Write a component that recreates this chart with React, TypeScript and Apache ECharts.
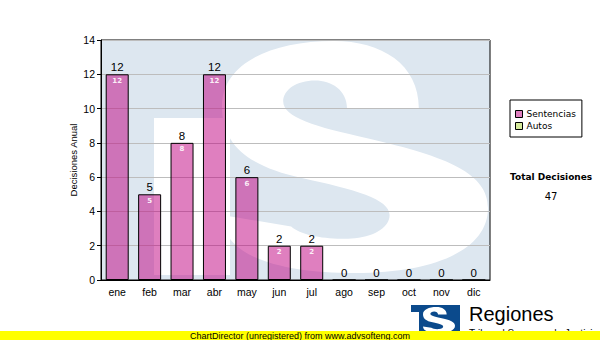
import React, { useEffect, useRef } from "react";
import * as echarts from "echarts";

const months = ["ene", "feb", "mar", "abr", "may", "jun", "jul", "ago", "sep", "oct", "nov", "dic"];
const sentencias = [12, 5, 8, 12, 6, 2, 2, 0, 0, 0, 0, 0];
const autos = [0, 0, 0, 0, 0, 0, 0, 0, 0, 0, 0, 0];
const seriesNames = ["Sentencias", "Autos"];
const yTicks = { min: 0, max: 14, interval: 2 };

const PINK = "rgba(192,0,128,0.5)";
const GREEN = "#d6eb9c";
const WM_BLUE = "#dde7f0";

// watermark "S" outline in a 100x100 box
const S_PATH =
  "M 42 0 C 60 0 74 10 74 29 L 47 29 C 47 21 41 17 35 17 C 28 17 23 21 23 26 " +
  "C 23 33 35 37 55 42 C 85 50 100 57 100 72 C 100 90 80 100 50 100 " +
  "C 20 100 0 92 0 75 L 26 80 C 30 84 40 86 50 85 C 58 84 63 80 63 75 " +
  "C 63 68 50 64 30 59 C 10 54 0 45 0 28 C 0 10 18 0 42 0 Z";

export default function App() {
  const ref = useRef<HTMLDivElement>(null);
  useEffect(() => {
    if (!ref.current) return;
    echarts.graphic.registerShape("wmS", echarts.graphic.extendPath(S_PATH, {}));
    const chart = echarts.init(ref.current, null, { renderer: "svg" });
    const total = sentencias.reduce((a, b) => a + b, 0) + autos.reduce((a, b) => a + b, 0);
    chart.setOption({
      animation: false,
      backgroundColor: "#ffffff",
      grid: {
        left: 101,
        right: 110,
        top: 40,
        bottom: 60,
        show: true,
        borderColor: "#000",
        borderWidth: 1,
        backgroundColor: "transparent",
      },
      legend: {
        data: seriesNames,
        orient: "vertical",
        left: 510,
        top: 100,
        padding: [8, 6, 5, 5],
        itemGap: 0,
        itemWidth: 7,
        itemHeight: 7,
        icon: "rect",
        borderColor: "#000",
        borderWidth: 1,
        borderRadius: 0,
        backgroundColor: "#fff",
        itemStyle: { borderColor: "#000", borderWidth: 1 },
        textStyle: { fontFamily: "DejaVu Sans", fontSize: 9, color: "#000", lineHeight: 12, padding: [0, 0, 0, -1] },
      },
      xAxis: {
        type: "category",
        data: months,
        axisLine: { lineStyle: { color: "#000", width: 1 } },
        axisTick: { alignWithLabel: true, length: 4, lineStyle: { color: "#000" } },
        axisLabel: { color: "#000", fontFamily: "Liberation Sans", fontSize: 10.5, margin: 6 },
      },
      yAxis: {
        type: "value",
        min: yTicks.min,
        max: yTicks.max,
        interval: yTicks.interval,
        name: "Decisiones Anual",
        nameLocation: "middle",
        nameGap: 23,
        nameMoveOverlap: false,
        nameTextStyle: { color: "#000", fontFamily: "Liberation Sans", fontSize: 9.5 },
        axisLine: { show: true, lineStyle: { color: "#000", width: 1 } },
        axisTick: { show: true, length: 4, lineStyle: { color: "#000" } },
        axisLabel: { color: "#000", fontFamily: "Liberation Sans", fontSize: 10.5, margin: 6 },
        splitLine: { show: true, lineStyle: { color: "#bdbdbd", width: 1 } },
      },
      series: [
        {
          name: seriesNames[0],
          type: "bar",
          stack: "dec",
          data: sentencias,
          barWidth: 23,
          barGap: "-100%",
          itemStyle: { color: PINK, borderColor: "#000", borderWidth: 1 },
          label: {
            show: true,
            position: "top",
            distance: 1,
            color: "#000",
            fontFamily: "Liberation Sans",
            fontSize: 11.5,
          },
          z: 3,
        },
        {
          name: seriesNames[1],
          type: "bar",
          stack: "dec",
          data: autos,
          barWidth: 23,
          barGap: "-100%",
          itemStyle: { color: GREEN, borderWidth: 0 },
          label: { show: false },
          z: 3,
        },
        {
          name: "inner",
          type: "bar",
          data: sentencias,
          barWidth: 23,
          barGap: "-100%",
          silent: true,
          itemStyle: { color: "transparent", borderWidth: 0 },
          label: {
            show: true,
            position: "insideTop",
            distance: 3,
            color: "#fbeef7",
            fontFamily: "DejaVu Sans",
            fontSize: 7,
            fontWeight: "bold",
            formatter: (p: any) => (p.value ? String(p.value) : ""),
          },
          z: 4,
        },
      ],
      graphic: [
        {
          type: "rect",
          z: -10,
          silent: true,
          shape: { x: 101, y: 40, width: 389, height: 240 },
          style: { fill: WM_BLUE },
        },
        {
          type: "rect",
          z: -9,
          silent: true,
          shape: { x: 154, y: 118, width: 76, height: 157 },
          style: { fill: "#fff" },
        },
        {
          type: "wmS",
          z: -9,
          silent: true,
          x: 222,
          y: 41,
          scaleX: 2.66,
          scaleY: 2.32,
          style: { fill: "#fff" },
        },
        {
          type: "text",
          left: 510,
          top: 172,
          style: { text: "Total Decisiones", font: "bold 9px DejaVu Sans", fill: "#000" },
        },
        {
          type: "text",
          x: 551,
          y: 196,
          style: {
            text: String(total),
            font: "10px DejaVu Sans",
            fill: "#000",
            textAlign: "center",
            textVerticalAlign: "middle",
          },
        },
        {
          type: "rect",
          shape: { x: 411, y: 305, width: 49, height: 30 },
          style: { fill: "#0b4a8c" },
        },
        {
          type: "rect",
          shape: { x: 411, y: 312, width: 8, height: 23 },
          style: { fill: "#fff" },
        },
        {
          type: "wmS",
          x: 423,
          y: 307,
          scaleX: 0.32,
          scaleY: 0.26,
          style: { fill: "#fff" },
        },
        {
          type: "text",
          left: 469,
          top: 304,
          style: { text: "Regiones", font: "20px Liberation Sans", fill: "#000" },
        },
        {
          type: "text",
          left: 469,
          top: 328,
          style: { text: "Tribunal Supremo de Justicia", font: "10px Liberation Sans", fill: "#000" },
        },
        {
          type: "rect",
          shape: { x: 0, y: 331, width: 600, height: 9 },
          style: { fill: "#ffff00" },
        },
        {
          type: "text",
          x: 300,
          y: 335.5,
          style: {
            text: "ChartDirector (unregistered) from www.advsofteng.com",
            font: "9px Liberation Sans",
            fill: "#000",
            textAlign: "center",
            textVerticalAlign: "middle",
          },
        },
      ],
    });
    return () => chart.dispose();
  }, []);
  return (
    <div
      ref={ref}
      style={{ position: "fixed", left: 0, top: 0, width: 600, height: 340, background: "#fff" }}
    />
  );
}
